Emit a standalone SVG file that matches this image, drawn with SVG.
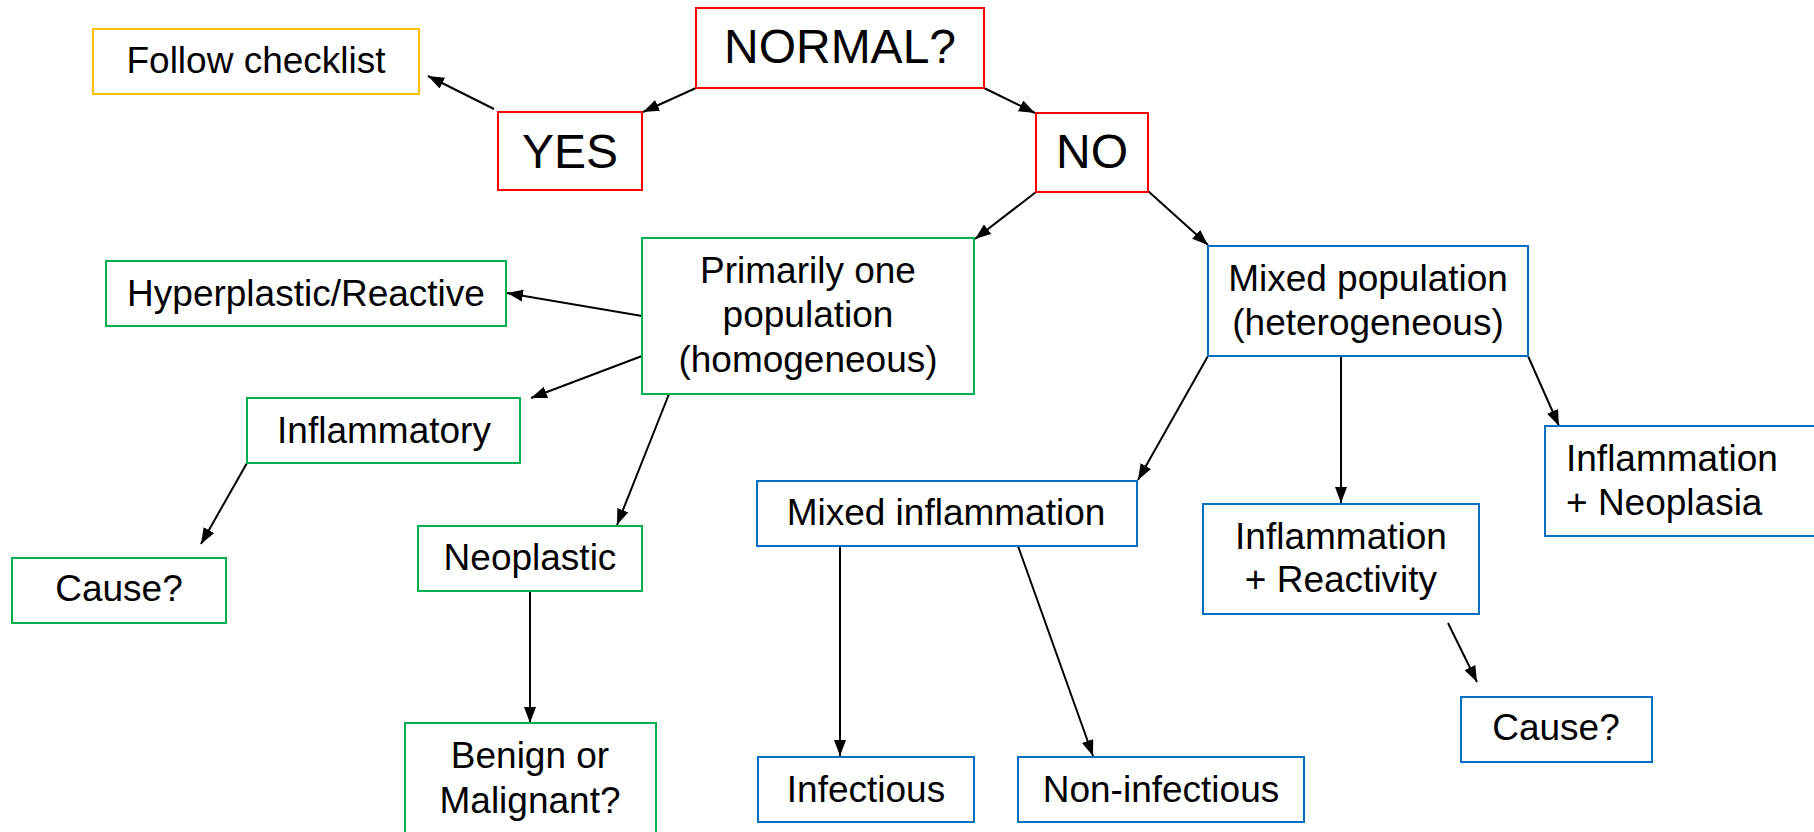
<svg xmlns="http://www.w3.org/2000/svg" width="1814" height="832" viewBox="0 0 1814 832">
<defs>
<marker id="ah" markerUnits="userSpaceOnUse" markerWidth="18" markerHeight="14" refX="16" refY="6" orient="auto">
<path d="M0,0 L16,6 L0,12 z" fill="#000"/>
</marker>
<style>
rect{fill:#fff;stroke-width:2}
.r{stroke:#FF0000}.y{stroke:#FFC000}.g{stroke:#00B050}.b{stroke:#0070C0}
text{font-family:"Liberation Sans",Arial,sans-serif;font-size:37px;fill:#000;text-anchor:middle}
.big{font-size:48px}
.lft{text-anchor:start}
#connectors line{stroke:#000;stroke-width:2;marker-end:url(#ah)}
</style>
</defs>
<rect width="1814" height="832" fill="#fff" stroke="none"/>
<g id="connectors">
<line x1="696" y1="88" x2="643" y2="112"/>
<line x1="494" y1="109" x2="428" y2="76"/>
<line x1="984" y1="88" x2="1035" y2="113"/>
<line x1="1036" y1="192" x2="975" y2="239"/>
<line x1="1148" y1="191" x2="1208" y2="245"/>
<line x1="642" y1="316" x2="507" y2="293"/>
<line x1="642" y1="356" x2="531" y2="398"/>
<line x1="247" y1="463" x2="201" y2="544"/>
<line x1="669" y1="394" x2="617" y2="525"/>
<line x1="530" y1="591" x2="530" y2="723"/>
<line x1="1208" y1="356" x2="1138" y2="480"/>
<line x1="1341" y1="356" x2="1341" y2="503"/>
<line x1="1528" y1="356" x2="1559" y2="426"/>
<line x1="840" y1="546" x2="840" y2="756"/>
<line x1="1018" y1="546" x2="1093" y2="756"/>
<line x1="1448" y1="623" x2="1477" y2="682"/>
</g>
<g id="normal"><rect class="r" x="696" y="8" width="288" height="80"/><text class="big" x="840" y="63">NORMAL?</text></g>
<g id="yes"><rect class="r" x="498" y="112" width="144" height="78"/><text class="big" x="570" y="168">YES</text></g>
<g id="no"><rect class="r" x="1036" y="113" width="112" height="79"/><text class="big" x="1092" y="168">NO</text></g>
<g id="follow"><rect class="y" x="93" y="29" width="326" height="65"/><text x="256" y="73">Follow checklist</text></g>
<g id="primarily"><rect class="g" x="642" y="238" width="332" height="156"/><text x="808" y="283">Primarily one</text><text x="808" y="327">population</text><text x="808" y="372">(homogeneous)</text></g>
<g id="hyperplastic"><rect class="g" x="106" y="261" width="400" height="65"/><text x="306" y="306">Hyperplastic/Reactive</text></g>
<g id="inflammatory"><rect class="g" x="247" y="398" width="273" height="65"/><text x="384" y="443">Inflammatory</text></g>
<g id="cause1"><rect class="g" x="12" y="558" width="214" height="65"/><text x="119" y="601">Cause?</text></g>
<g id="neoplastic"><rect class="g" x="418" y="526" width="224" height="65"/><text x="530" y="570">Neoplastic</text></g>
<g id="benign"><rect class="g" x="405" y="723" width="251" height="130"/><text x="530" y="768">Benign or</text><text x="530" y="813">Malignant?</text></g>
<g id="mixedpop"><rect class="b" x="1208" y="246" width="320" height="110"/><text x="1368" y="291">Mixed population</text><text x="1368" y="335">(heterogeneous)</text></g>
<g id="mixedinfl"><rect class="b" x="757" y="481" width="380" height="65"/><text x="946" y="525">Mixed inflammation</text></g>
<g id="inflreact"><rect class="b" x="1203" y="504" width="276" height="110"/><text x="1341" y="549">Inflammation</text><text x="1341" y="592">+ Reactivity</text></g>
<g id="inflneo"><rect class="b" x="1545" y="426" width="272" height="110"/><text class="lft" x="1566" y="471">Inflammation</text><text class="lft" x="1566" y="515">+ Neoplasia</text></g>
<g id="infectious"><rect class="b" x="758" y="757" width="216" height="65"/><text x="866" y="802">Infectious</text></g>
<g id="noninfectious"><rect class="b" x="1018" y="757" width="286" height="65"/><text x="1161" y="802">Non-infectious</text></g>
<g id="cause2"><rect class="b" x="1461" y="697" width="191" height="65"/><text x="1556" y="740">Cause?</text></g>
</svg>
